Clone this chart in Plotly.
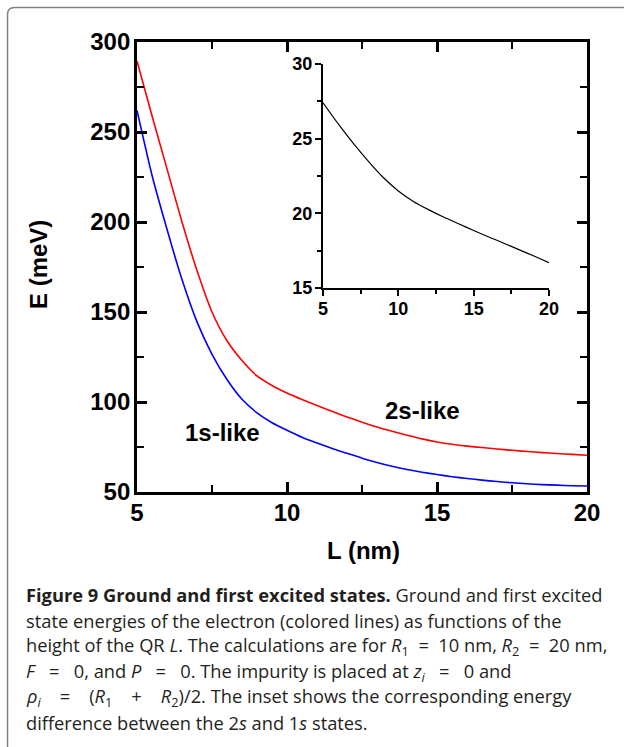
import plotly.graph_objects as go

# ---------------- data ----------------
L_nm = [5, 5.5, 6, 6.5, 7, 7.5, 8, 8.5, 9, 9.5, 10, 10.5, 11, 11.5, 12, 12.5, 13, 13.5, 14, 14.5,
        15, 15.5, 16, 16.5, 17, 17.5, 18, 18.5, 19, 19.5, 20]
E_1s = [262, 226, 196, 168, 144.5, 126.5, 112.5, 101.5, 94, 88.5, 84.3, 80.4, 77.2, 74.2, 71.5,
        68.8, 66.4, 64.3, 62.5, 61, 59.7, 58.5, 57.5, 56.6, 55.8, 55.1, 54.6, 54.1, 53.8, 53.5, 53.3]
E_2s = [289.5, 259, 229.5, 200, 173, 150, 134, 123, 114.5, 109.2, 105, 101.4, 98.0, 94.8,
        91.7, 88.8, 86.1, 83.7, 81.5, 79.5, 77.8, 76.5, 75.5, 74.7, 73.9, 73.2, 72.5, 71.9, 71.4,
        70.9, 70.4]

inset_L = [5, 6, 7, 8, 9, 10, 11, 12, 13, 14, 15, 16, 17, 18, 19, 20]
inset_dE = [27.4, 26.0, 24.7, 23.5, 22.4, 21.5, 20.8, 20.25, 19.75, 19.3, 18.85, 18.42, 18.0,
            17.57, 17.14, 16.7]

x_ticks = [5, 10, 15, 20]
y_ticks = [50, 100, 150, 200, 250, 300]
inset_x_ticks = [5, 10, 15, 20]
inset_y_ticks = [15, 20, 25, 30]


def op(sym, n):
    pad = "&nbsp;" * n
    return f" {pad}{sym}{pad} "


caption_lines = [
    "<b>Figure 9 Ground and first excited states.</b> Ground and first excited",
    "state energies of the electron (colored lines) as functions of the",
    f"height of the QR <i>L</i>. The calculations are for <i>R</i><sub>1</sub>{op('=', 1)}10 nm, <i>R</i><sub>2</sub>{op('=', 1)}20 nm,",
    f"<i>F</i>{op('=', 2)}0, and <i>P</i>{op('=', 2)}0. The impurity is placed at <i>z<sub>i</sub></i>{op('=', 2)}0 and",
    f"<i>ρ<sub>i</sub></i>{op('=', 3)}(<i>R</i><sub>1</sub>{op('+', 3)}<i>R</i><sub>2</sub>)/2. The inset shows the corresponding energy",
    "difference between the 2<i>s</i> and 1<i>s</i> states.",
]

# ---------------- layout geometry (pixels) ----------------
W, H = 624, 747
PL, PR, PT, PB = 137, 587, 42, 492   # main plot area
pw, ph = PR - PL, PB - PT


def px(x):
    return (x - PL) / pw


def py(y):
    return (PB - y) / ph


FAM = "Liberation Sans, Arial, sans-serif"
TICKFONT = dict(family=FAM, size=24, color="black", weight="bold")
INSETFONT = dict(family=FAM, size=18, color="black", weight="bold")

fig = go.Figure()
fig.add_trace(go.Scatter(x=L_nm, y=E_1s, mode="lines",
                         line=dict(color="#0000ff", width=1.6, shape="spline", smoothing=0.6),
                         showlegend=False))
fig.add_trace(go.Scatter(x=L_nm, y=E_2s, mode="lines",
                         line=dict(color="#ff0000", width=1.6, shape="spline", smoothing=0.6),
                         showlegend=False))
fig.add_trace(go.Scatter(x=inset_L, y=inset_dE, mode="lines",
                         line=dict(color="black", width=1.2, shape="spline", smoothing=0.6),
                         xaxis="x2", yaxis="y2", showlegend=False))

fig.update_layout(
    width=W, height=H,
    margin=dict(l=PL, r=W - PR, t=PT, b=H - PB, pad=0),
    paper_bgcolor="white", plot_bgcolor="rgba(0,0,0,0)",
    xaxis=dict(range=[5, 20], tickvals=x_ticks, ticks="inside", ticklen=10, tickwidth=2.5,
               tickcolor="black", mirror="allticks", showline=True, linewidth=2.8, linecolor="black",
               showgrid=False, zeroline=False, tickfont=TICKFONT, ticklabelstandoff=-3,
               minor=dict(tickvals=[7.5, 12.5, 17.5], ticks="inside", ticklen=7, tickwidth=2.2,
                          tickcolor="black", showgrid=False)),
    yaxis=dict(range=[50, 300], tickvals=y_ticks, ticks="inside", ticklen=10, tickwidth=2.5,
               tickcolor="black", mirror="allticks", showline=True, linewidth=2.8, linecolor="black",
               showgrid=False, zeroline=False, tickfont=TICKFONT, ticklabelstandoff=-1,
               minor=dict(tickvals=[75, 125, 175, 225, 275], ticks="inside", ticklen=7, tickwidth=2.2,
                          tickcolor="black", showgrid=False)),
    xaxis2=dict(domain=[px(323), px(549)], anchor="y2", range=[5, 20], tickvals=inset_x_ticks,
                ticks="outside", ticklen=6, tickwidth=1.8, tickcolor="black", showline=True,
                linewidth=2, linecolor="black", showgrid=False, zeroline=False, tickfont=INSETFONT,
                ticklabelstandoff=-3,
                minor=dict(tickvals=[7.5, 12.5, 17.5], ticks="outside", ticklen=4, tickwidth=1.5,
                           tickcolor="black")),
    yaxis2=dict(domain=[py(288), py(64)], anchor="x2", range=[15, 30], tickvals=inset_y_ticks,
                ticks="outside", ticklen=6, tickwidth=1.8, tickcolor="black", showline=True,
                linewidth=2, linecolor="black", showgrid=False, zeroline=False, tickfont=INSETFONT,
                ticklabelstandoff=-1,
                minor=dict(tickvals=[17.5, 22.5, 27.5], ticks="outside", ticklen=4, tickwidth=1.5,
                           tickcolor="black")),
)

ann = []
# curve labels
ann.append(dict(x=7.85, y=83, xref="x", yref="y", text="<b>1s-like</b>", showarrow=False,
                xanchor="center", yanchor="middle", font=dict(family=FAM, size=24, color="black")))
ann.append(dict(x=14.5, y=95.5, xref="x", yref="y", text="<b>2s-like</b>", showarrow=False,
                xanchor="center", yanchor="middle", font=dict(family=FAM, size=24, color="black")))
# axis titles
ann.append(dict(x=px(363), y=py(550), xref="paper", yref="paper", text="<b>L (nm)</b>", showarrow=False,
                xanchor="center", yanchor="middle", font=dict(family=FAM, size=24, color="black")))
ann.append(dict(x=px(38), y=py(265), xref="paper", yref="paper", text="<b>E (meV)</b>", showarrow=False,
                textangle=-90, xanchor="center", yanchor="middle",
                font=dict(family=FAM, size=24, color="black")))
# caption
line_y = [594, 620, 646, 672, 697, 723]
for txt, yy in zip(caption_lines, line_y):
    ann.append(dict(x=px(24), y=py(yy), xref="paper", yref="paper", text=txt, showarrow=False,
                    xanchor="left", yanchor="middle", align="left",
                    font=dict(family="Open Sans, sans-serif", size=18.3, color="#231f20")))
fig.update_layout(annotations=ann)

# rounded frame (clipped at right and bottom)
r = 7
path = (f"M {px(7.5)},{py(760)} L {px(7.5)},{py(7.5 + r)} "
        f"Q {px(7.5)},{py(7.5)} {px(7.5 + r)},{py(7.5)} L {px(640)},{py(7.5)}")
fig.add_shape(type="path", path=path, xref="paper", yref="paper",
              line=dict(color="#808080", width=1.5), layer="below")

fig.write_html("out.html", config={"displayModeBar": False},
               post_script="document.body.style.margin='0';document.body.style.overflow='hidden';")
